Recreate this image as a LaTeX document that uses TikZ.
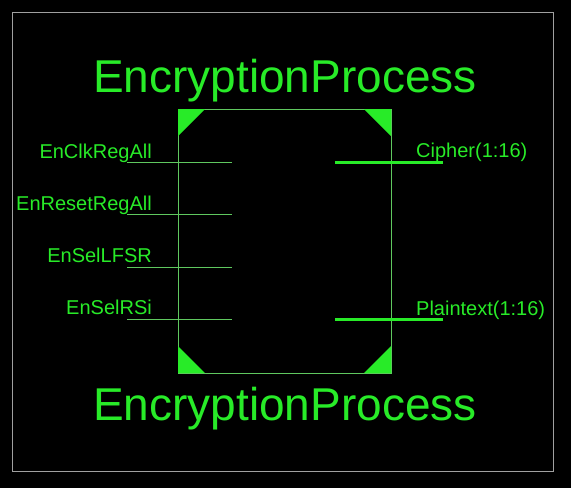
\documentclass[tikz,border=0pt]{standalone}
\usepackage{fontspec}
\setmainfont{Liberation Sans}
\usetikzlibrary{positioning,calc}
\definecolor{symgreen}{RGB}{40,235,40}
\definecolor{wiregreen}{RGB}{95,200,95}
\definecolor{framegray}{RGB}{160,160,160}

\begin{document}
\begin{tikzpicture}[x=1pt,y=-1pt,
  pinlabel/.style={text=symgreen,inner sep=0pt,font=\fontsize{20}{24}\selectfont},
  titlelabel/.style={text=symgreen,inner sep=0pt,font=\fontsize{46}{54}\selectfont},
  thinpin/.style={wiregreen,line width=1pt},
  buspin/.style={symgreen,line width=3pt}]
\fill[black] (0,0) rectangle (571,488);
\useasboundingbox (0,0) rectangle (571,488);
\draw[framegray,line width=1pt] (12,12) rectangle (553,471);
% symbol body
\draw[wiregreen,line width=1pt] (178,109) rectangle (391,373);
\fill[symgreen] (178,109) -- (205,109) -- (178,136) -- cycle;
\fill[symgreen] (391,109) -- (364,109) -- (391,136) -- cycle;
\fill[symgreen] (178,373) -- (205,373) -- (178,346) -- cycle;
\fill[symgreen] (391,373) -- (364,373) -- (391,346) -- cycle;
% titles
\node[titlelabel,anchor=base] (toptitle) at (285,92) {EncryptionProcess};
\node[titlelabel,anchor=base] (bottitle) at (285,420) {EncryptionProcess};
% inputs
\coordinate (clkA) at (127,162);\coordinate (clkB) at (232,162);
\coordinate (rstA) at (127,214);\coordinate (rstB) at (232,214);
\coordinate (lfsrA) at (127,267);\coordinate (lfsrB) at (232,267);
\coordinate (rsiA) at (127,319);\coordinate (rsiB) at (232,319);
\draw[thinpin] (clkA) -- (clkB);
\draw[thinpin] (rstA) -- (rstB);
\draw[thinpin] (lfsrA) -- (lfsrB);
\draw[thinpin] (rsiA) -- (rsiB);
\node[pinlabel,anchor=base east] (clk) at (152,158) {EnClkRegAll};
\node[pinlabel,anchor=base east] (rst) at (152,210) {EnResetRegAll};
\node[pinlabel,anchor=base east] (lfsr) at (152,262) {EnSelLFSR};
\node[pinlabel,anchor=base east] (rsi) at (152,314) {EnSelRSi};
% outputs
\coordinate (cipA) at (335,162);\coordinate (cipB) at (443,162);
\coordinate (ptA) at (335,319);\coordinate (ptB) at (443,319);
\draw[buspin] (cipA) -- (cipB);
\draw[buspin] (ptA) -- (ptB);
\node[pinlabel,anchor=base west] (cipher) at (416,157) {Cipher(1:16)};
\node[pinlabel,anchor=base west] (plain) at (416,315) {Plaintext(1:16)};
\end{tikzpicture}
\end{document}
